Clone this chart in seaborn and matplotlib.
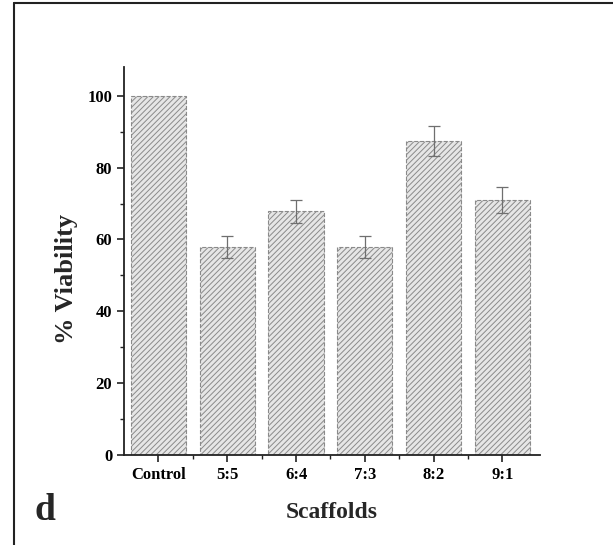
import pandas as pd
import matplotlib.pyplot as plt
import seaborn as sns
from matplotlib.ticker import MultipleLocator, FixedLocator
from matplotlib.lines import Line2D

# Values
scaffolds = ["Control", "5:5", "6:4", "7:3", "8:2", "9:1"]
viability = [100, 58, 67.8, 58, 87.4, 71.1]
viability_err = [0, 3.1, 3.3, 3.1, 4.3, 3.6]

df = pd.DataFrame({"Scaffolds": scaffolds, "Viability": viability, "Err": viability_err})

sns.set_style("ticks")
plt.rcParams["font.family"] = ["Liberation Serif", "DejaVu Serif"]
plt.rcParams["hatch.color"] = "#a0a0a0"
plt.rcParams["hatch.linewidth"] = 0.7

fig = plt.figure(figsize=(6.13, 5.45), dpi=100)
ax = fig.add_axes([0.2023, 0.165, 0.679, 0.712])

sns.barplot(data=df, x="Scaffolds", y="Viability", color="#e6e6e6", width=0.8,
            edgecolor="#8a8a8a", linewidth=0.8, linestyle="--", errorbar=None, ax=ax)
for bar in ax.patches:
    bar.set_hatch("//////")

# error bars (Control has none)
for i, (v, e) in enumerate(zip(df["Viability"], df["Err"])):
    if e > 0:
        ax.errorbar(i, v, yerr=e, fmt="none", ecolor="#6f6f6f", elinewidth=0.9,
                    capsize=4, capthick=0.9)

ax.set_xlim(-0.5, 5.55)
ax.set_ylim(0, 108)
ax.yaxis.set_major_locator(MultipleLocator(20))
ax.yaxis.set_minor_locator(MultipleLocator(10))
ax.xaxis.set_minor_locator(FixedLocator([0.5, 1.5, 2.5, 3.5, 4.5]))

sns.despine(ax=ax)
for s in ["left", "bottom"]:
    ax.spines[s].set_linewidth(1.3)
    ax.spines[s].set_color("#222222")

ax.tick_params(axis="both", which="major", direction="out", length=5, width=1.2,
               colors="#222222", labelsize=12, labelcolor="black")
ax.tick_params(axis="both", which="minor", direction="out", length=3, width=1.0,
               colors="#222222")
for lbl in ax.get_xticklabels() + ax.get_yticklabels():
    lbl.set_fontweight("bold")

ax.set_xlabel("Scaffolds", fontsize=17, fontweight="bold", labelpad=14)
ax.set_ylabel("% Viability", fontsize=19, fontweight="bold")
ax.yaxis.set_label_coords(-0.11, 0.455)

# panel letter and outer frame
fig.text(0.056, 0.046, "d", fontsize=27, fontweight="bold")
fig.add_artist(Line2D([0.023, 0.023], [0.0, 0.994], color="#222222", lw=1.5,
                      transform=fig.transFigure))
fig.add_artist(Line2D([0.023, 1.0], [0.994, 0.994], color="#222222", lw=1.5,
                      transform=fig.transFigure))

fig.savefig("out.png", dpi=100)
